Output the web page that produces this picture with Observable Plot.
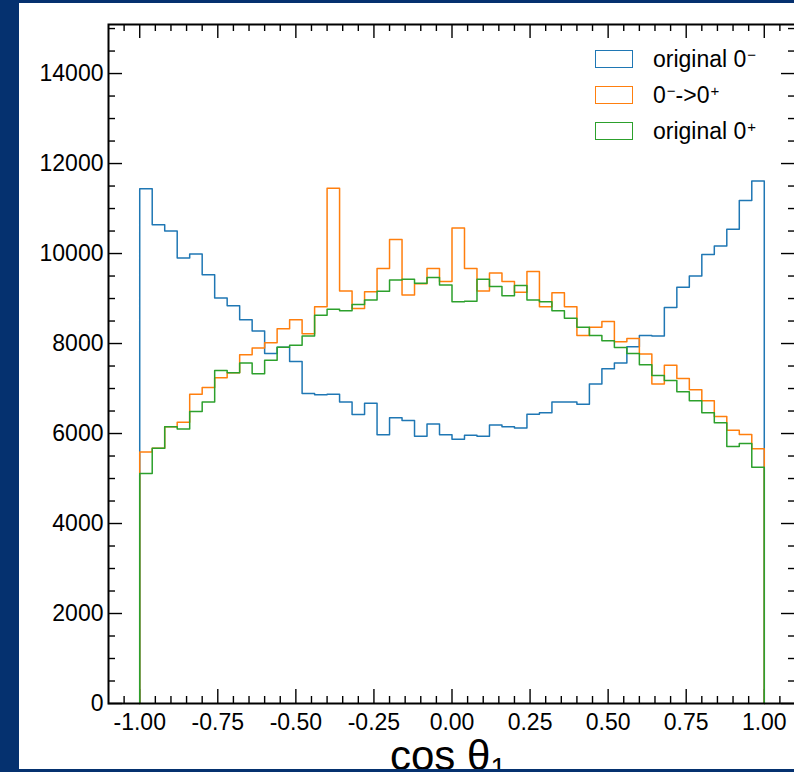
<!DOCTYPE html>
<html><head><meta charset="utf-8">
<script src="https://cdn.jsdelivr.net/npm/d3@7"></script>
<script src="https://cdn.jsdelivr.net/npm/@observablehq/plot@0.6"></script>
<style>
html,body{margin:0;padding:0;}
body{width:794px;height:772px;background:#05316f;position:relative;overflow:hidden;font-family:"Liberation Sans",Arial,Helvetica,sans-serif;}
#panel{position:absolute;left:19px;top:3px;width:780px;height:766px;background:#fff;overflow:hidden;}
#chart{position:absolute;left:0;top:0;}
#legend{position:absolute;left:576px;top:47px;}
.row{display:flex;align-items:center;height:18px;margin-bottom:17.8px;}
.box{box-sizing:border-box;width:38px;height:18px;border:1.5px solid;background:#fff;}
.lab{margin-left:20px;font-size:23px;line-height:18px;color:#000;white-space:nowrap;}
.lab sup{font-size:15px;vertical-align:7px;line-height:0;margin-left:1px;}
#xlabel{position:absolute;left:371px;top:737.5px;font-size:42px;line-height:30px;white-space:nowrap;color:#000;}
#xlabel sub{font-size:28px;vertical-align:-7px;line-height:0;}
</style></head><body>
<div id="panel"><div id="chart"></div><div id="legend"></div>
<div id="xlabel">cos θ<sub>1</sub></div></div>
<script>
// histogram binning: 50 bins of width 0.04 starting at -1
const binStart = -1, binWidth = 0.04;

const original0minus = [11440, 10640, 10500, 9900, 9990, 9530, 9010, 8840, 8530, 8280,
  7780, 7920, 7600, 6890, 6860, 6870, 6700, 6420, 6670, 5970,
  6350, 6290, 5940, 6210, 5970, 5870, 5960, 5940, 6190, 6150,
  6120, 6430, 6460, 6700, 6700, 6650, 7100, 7440, 7570, 7930,
  8180, 8170, 8800, 9250, 9500, 9980, 10170, 10540, 11180, 11610];

const minusToPlus = [5590, 5670, 6150, 6250, 6870, 7020, 7240, 7350, 7750, 7900,
  8020, 8330, 8530, 8220, 8820, 11450, 9170, 8780, 9150, 9670,
  10310, 9080, 9330, 9670, 9380, 10570, 9670, 9170, 9570, 9380,
  9140, 9600, 8820, 9130, 8820, 8180, 8360, 8490, 8040, 8110,
  7770, 7100, 7520, 7220, 6970, 6730, 6380, 6070, 5980, 5660];

const original0plus = [5110, 5670, 6150, 6100, 6490, 6700, 7400, 7350, 7570, 7330,
  7630, 7920, 7960, 8170, 8630, 8760, 8730, 8870, 8970, 9160,
  9410, 9430, 9340, 9470, 9300, 8930, 8940, 9430, 9270, 9060,
  9290, 8970, 8930, 8730, 8560, 8360, 8180, 8060, 7910, 7780,
  7530, 7290, 7180, 6930, 6730, 6460, 6240, 5710, 5780, 5250];

const seriesNames = ["original 0<sup>−</sup>", "0<sup>−</sup>-&gt;0<sup>+</sup>", "original 0<sup>+</sup>"];
const seriesColors = ["#1f77b4", "#ff7f0e", "#2ca02c"];
const seriesValues = [original0minus, minusToPlus, original0plus];

const xDomain = [-1.1, 1.1];
const yDomain = [0, 15090];
const xMajorTicks = [-1, -0.75, -0.5, -0.25, 0, 0.25, 0.5, 0.75, 1];
const xMinorTicks = [-1.05, -0.95, -0.9, -0.85, -0.8, -0.7, -0.65, -0.6, -0.55, -0.45, -0.4, -0.35, -0.3,
  -0.2, -0.15, -0.1, -0.05, 0.05, 0.1, 0.15, 0.2, 0.3, 0.35, 0.4, 0.45, 0.55, 0.6, 0.65, 0.7,
  0.8, 0.85, 0.9, 0.95, 1.05];
const yMajorTicks = [0, 2000, 4000, 6000, 8000, 10000, 12000, 14000];
const yMinorTicks = [500, 1000, 1500, 2500, 3000, 3500, 4500, 5000, 5500, 6500, 7000, 7500,
  8500, 9000, 9500, 10500, 11000, 11500, 12500, 13000, 13500, 14500, 15000];

function stepPoints(values) {
  const n = values.length;
  const pts = [{x: binStart, y: 0}];
  values.forEach((v, i) => pts.push({x: binStart + i * binWidth, y: v}));
  pts.push({x: binStart + n * binWidth, y: values[n - 1]});
  pts.push({x: binStart + n * binWidth, y: 0});
  return pts;
}

const W = 777, H = 766, mL = 89, mR = 1, mT = 21, mB = 66;
const frameH = H - mT - mB, frameW = W - mL - mR;
const majorLen = 14, minorLen = 7;

const tickStyle = {stroke: "#000", strokeWidth: 1.4};
const marks = [];
// ticks (inward on all four sides)
marks.push(Plot.tickX(xMajorTicks, {x: d => d, insetTop: frameH - majorLen, ...tickStyle}));
marks.push(Plot.tickX(xMajorTicks, {x: d => d, insetBottom: frameH - majorLen, ...tickStyle}));
marks.push(Plot.tickX(xMinorTicks, {x: d => d, insetTop: frameH - minorLen, ...tickStyle}));
marks.push(Plot.tickX(xMinorTicks, {x: d => d, insetBottom: frameH - minorLen, ...tickStyle}));
marks.push(Plot.tickY(yMajorTicks, {y: d => d, insetRight: frameW - majorLen, ...tickStyle}));
marks.push(Plot.tickY(yMajorTicks, {y: d => d, insetLeft: frameW - majorLen, ...tickStyle}));
marks.push(Plot.tickY(yMinorTicks, {y: d => d, insetRight: frameW - minorLen, ...tickStyle}));
marks.push(Plot.tickY(yMinorTicks, {y: d => d, insetLeft: frameW - minorLen, ...tickStyle}));
// step histograms
seriesValues.forEach((vals, i) => {
  marks.push(Plot.line(stepPoints(vals), {x: "x", y: "y", curve: "step-after",
    stroke: seriesColors[i], strokeWidth: 1.5}));
});
marks.push(Plot.axisX({ticks: xMajorTicks, tickSize: 0, tickPadding: 10,
  tickFormat: d => d.toFixed(2), label: null, fontSize: 23}));
marks.push(Plot.axisY({ticks: yMajorTicks, tickSize: 0, tickPadding: 5,
  tickFormat: d => String(d), label: null, fontSize: 23}));
marks.push(Plot.frame({stroke: "#000", strokeWidth: 2}));

const chart = Plot.plot({
  width: W, height: H,
  marginLeft: mL, marginRight: mR, marginTop: mT, marginBottom: mB,
  style: {fontFamily: '"Liberation Sans", Arial, Helvetica, sans-serif', fontSize: "23px",
    color: "#000", background: "transparent", overflow: "visible"},
  x: {domain: xDomain},
  y: {domain: yDomain},
  marks
});
document.getElementById("chart").appendChild(chart);

const legend = document.getElementById("legend");
seriesNames.forEach((name, i) => {
  const row = document.createElement("div");
  row.className = "row";
  row.innerHTML = `<div class="box" style="border-color:${seriesColors[i]}"></div><div class="lab">${name}</div>`;
  legend.appendChild(row);
});
</script>
</body></html>
